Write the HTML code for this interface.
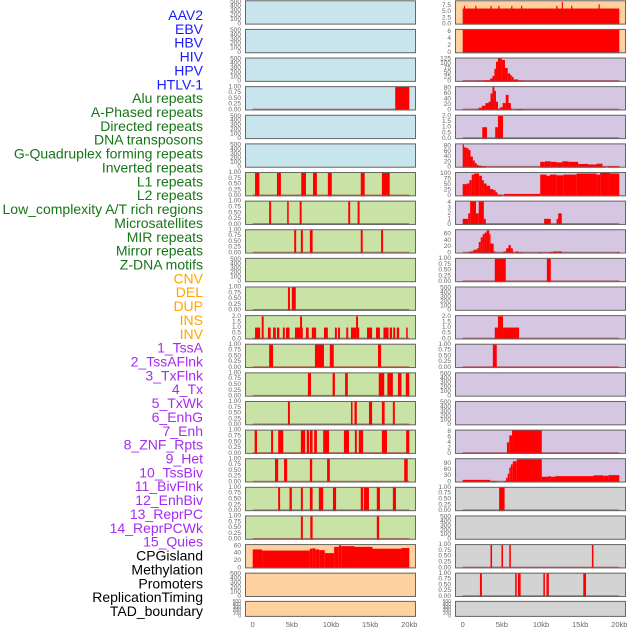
<!DOCTYPE html>
<html><head><meta charset="utf-8">
<style>
html,body{margin:0;padding:0;background:#fff;width:630px;height:630px;overflow:hidden}
svg{display:block}
.lab{font-family:"Liberation Sans",sans-serif;font-size:14px}
.tk{font-family:"Liberation Sans",sans-serif;font-size:6.5px;fill:#666}
.ax{font-family:"Liberation Sans",sans-serif;font-size:7.5px;fill:#666}
</style></head>
<body>
<svg id="chart" width="630" height="630" viewBox="0 0 630 630" xmlns="http://www.w3.org/2000/svg"></svg>
<script>
const trackLabels = ["AAV2","EBV","HBV","HIV","HPV","HTLV-1","Alu repeats","A-Phased repeats","Directed repeats","DNA transposons","G-Quadruplex forming repeats","Inverted repeats","L1 repeats","L2 repeats","Low_complexity A/T rich regions","Microsatellites","MIR repeats","Mirror repeats","Z-DNA motifs","CNV","DEL","DUP","INS","INV","1_TssA","2_TssAFlnk","3_TxFlnk","4_Tx","5_TxWk","6_EnhG","7_Enh","8_ZNF_Rpts","9_Het","10_TssBiv","11_BivFlnk","12_EnhBiv","13_ReprPC","14_ReprPCWk","15_Quies","CPGisland","Methylation","Promoters","ReplicationTiming","TAD_boundary"];
const labelColors = ["#1a1aff","#1a1aff","#1a1aff","#1a1aff","#1a1aff","#1a1aff","#167516","#167516","#167516","#167516","#167516","#167516","#167516","#167516","#167516","#167516","#167516","#167516","#167516","#ffa500","#ffa500","#ffa500","#ffa500","#ffa500","#a52cf0","#a52cf0","#a52cf0","#a52cf0","#a52cf0","#a52cf0","#a52cf0","#a52cf0","#a52cf0","#a52cf0","#a52cf0","#a52cf0","#a52cf0","#a52cf0","#a52cf0","#000","#000","#000","#000","#000"];
const xTickKb = [0,5,10,15,20];
const xTickLabels = ["0","5kb","10kb","15kb","20kb"];
const ticksEmpty = [0,100,200,300,400,500];
const ticksUnit = [0,0.25,0.5,0.75,1.0];
const ticksUnitLbl = ["0.00","0.25","0.50","0.75","1.00"];
// segments: [startKb, endKb, value]
const L4 = [[18.2,20.0,1]];
const L7 = [[0.3,0.85,1],[3.1,3.6,1],[6.2,6.8,1],[7.7,8.2,1],[9.6,10.1,1],[13.8,14.3,1],[16.5,17.5,1]];
const L8 = [[2.1,2.35,1],[4.4,4.6,1],[6.0,6.25,1],[12.2,12.45,1],[13.4,13.65,1]];
const L9 = [[5.3,5.55,1],[6.15,6.4,1],[7.3,7.65,1],[13.8,14.05,1],[16.4,16.65,1]];
const L11 = [[4.5,4.75,1],[5.0,5.5,1]];
const L12 = [[0.3,0.95,1],[1.15,1.4,2],[1.95,2.3,1],[2.6,2.95,1],[3.1,3.4,1],[3.85,4.1,1],[4.25,4.7,1],[5.4,6.05,1],[6.05,6.3,2],[6.3,6.4,1],[6.8,7.15,1],[7.55,8.1,1],[9.1,9.6,1],[10.5,10.75,1],[10.9,11.15,1],[11.95,12.2,1],[12.55,13.2,1],[13.2,13.45,2],[13.45,13.6,1],[14.6,15.25,1],[15.75,16.25,1],[16.7,17.35,1],[17.5,17.8,1],[17.95,18.2,1],[18.4,18.7,1],[19.6,19.8,1]];
const L13 = [[2.1,2.6,1],[7.95,9.1,1],[9.85,10.35,1],[16.0,16.4,1]];
const L14 = [[7.05,7.45,1],[10.2,10.5,1],[11.8,12.15,1],[16.1,16.8,1],[17.2,17.9,1],[18.55,19.0,1],[19.55,20,1]];
const L15 = [[4.5,4.75,1],[12.55,12.75,1],[13.0,13.3,1],[14.85,15.25,1],[16.5,16.85,1],[17.9,18.15,1]];
const L16 = [[0.25,0.55,1],[2.35,2.6,1],[3.25,3.9,1],[6.15,6.7,1],[6.9,7.2,1],[7.3,7.65,1],[7.85,8.2,1],[9.0,9.75,1],[11.65,12.3,1],[13.05,13.3,1],[13.55,14.1,1],[16.5,17.15,1],[19.6,20,1]];
const L17 = [[2.85,3.25,1],[4.0,4.4,1],[7.3,7.6,1],[9.5,9.85,1],[19.35,19.8,1]];
const L18 = [[3.25,3.5,1],[4.7,5.0,1],[6.15,6.4,1],[7.3,7.65,1],[8.45,9.0,1],[10.25,10.65,1],[13.8,14.1,1],[14.2,14.85,1],[15.85,16.25,1],[17.9,18.3,1]];
const L19 = [[6.15,6.4,1],[7.35,7.65,1],[15.85,16.15,1]];
const L20 = [[0,1.2,50],[1.2,7.3,47],[7.3,7.6,52],[7.6,8.0,53],[8.0,8.5,50],[8.5,9.2,48],[9.2,10.4,40],[10.4,11.0,57],[11.0,11.3,61],[11.3,13.0,59],[13.0,15.3,57],[15.3,19.0,52],[19.0,20,54]];
const R1 = [[0,20,6.3],[0.15,0.3,7.4],[1.6,1.75,7.4],[3.55,3.7,7.4],[4.55,4.7,7.4],[6.2,6.35,7.4],[7.45,7.6,7.4],[11.95,12.1,7.4],[12.65,12.8,9.0],[13.85,14.0,7.4],[17.35,17.5,8.0]];
const R2 = [[0,20,6.6]];
const R3 = [[1.8,2.7,2],[2.7,3.5,5],[3.5,3.8,15],[3.8,4.05,30],[4.05,4.25,70],[4.25,4.5,110],[4.5,5.0,130],[5.0,5.4,120],[5.4,5.75,75],[5.75,6.05,45],[6.05,6.25,35],[6.25,6.5,25],[6.5,7.1,10],[7.1,7.65,3]];
const R4 = [[1.8,2.05,3],[2.05,2.45,8],[2.45,2.9,15],[2.9,3.3,25],[3.3,3.55,30],[3.55,3.8,60],[3.8,4.05,84],[4.05,4.25,70],[4.25,4.5,30],[4.5,4.8,5],[4.8,5.1,10],[5.1,5.5,25],[5.5,5.85,55],[5.85,6.15,25],[6.15,6.3,5],[6.85,7.55,3]];
const R5 = [[2.5,3.1,1],[4.15,4.5,1],[4.5,5.15,2]];
const R6 = [[0,0.17,86],[0.17,0.5,75],[0.5,0.75,72],[0.75,1.0,65],[1.0,1.3,40],[1.3,1.55,25],[1.55,1.8,15],[1.8,2.05,8],[2.05,2.45,5],[2.45,2.95,3],[9.9,10.5,20],[10.5,11.25,22],[11.25,12.0,20],[12.0,12.7,18],[12.7,13.5,22],[13.5,14.75,20],[14.75,16.05,12],[16.05,17.1,10],[17.1,17.85,13],[17.85,18.2,2],[18.6,20,3]];
const R7 = [[0,0.5,52],[0.5,0.85,55],[0.85,1.15,70],[1.15,1.45,95],[1.45,2.1,100],[2.1,2.45,90],[2.45,2.7,70],[2.7,3.05,55],[3.05,3.5,45],[3.5,3.9,30],[3.9,4.2,25],[4.2,4.45,15],[4.45,5.0,5],[5.3,9.9,8],[9.9,10.7,95],[10.7,11.15,90],[11.15,12.0,95],[12.0,12.85,92],[12.85,14.55,95],[14.55,17.1,100],[17.1,17.55,95],[17.55,18.8,103],[18.8,20,100]];
const R8 = [[0,0.7,1],[0.7,0.95,2],[0.95,1.7,4.2],[1.7,2.05,2],[2.05,2.7,4.2],[2.7,2.95,1],[10.4,11.25,1],[12.0,12.2,1],[12.2,12.65,2]];
const R9 = [[0.7,0.95,3],[0.95,1.35,5],[1.35,1.8,10],[1.8,2.05,15],[2.05,2.3,35],[2.3,2.55,50],[2.55,2.8,60],[2.8,3.05,65],[3.05,3.4,72],[3.4,3.55,60],[3.55,3.95,30],[3.95,4.15,5],[5.2,5.55,5],[5.55,5.85,15],[5.85,6.15,25],[6.15,6.4,15],[6.4,6.5,5],[6.8,7.1,5],[7.1,7.6,2],[9.65,10.1,2],[11.05,11.55,3],[11.55,12.65,5],[19.75,20,3]];
const R10 = [[4.1,5.5,1],[10.75,11.25,1]];
const R12 = [[4.1,4.5,1],[4.5,5.15,2],[5.15,7.2,1]];
const R13 = [[3.85,4.35,1]];
const R16 = [[5.65,5.95,4],[5.95,6.3,6.5],[6.3,10.1,8.3]];
const R17 = [[0,3.5,10],[3.5,4.35,5],[5.3,5.55,5],[5.55,5.75,20],[5.75,5.95,40],[5.95,6.15,70],[6.15,6.4,85],[6.4,6.9,100],[6.9,10.1,110],[10.1,10.95,25],[10.95,11.25,28],[11.25,11.8,25],[11.8,16.7,28],[16.7,17.95,32],[17.95,18.6,30],[18.6,20,33]];
const R18 = [[4.65,5.35,1]];
const R20 = [[3.55,3.75,1],[4.95,5.15,1],[5.95,6.15,1],[16.5,16.7,1]];
const R21 = [[2.2,2.45,1],[6.7,6.9,1],[7.05,7.4,1],[10.3,10.5,1],[10.7,11.0,1],[15.4,15.75,1]];

const BLUE="#c8e4ec", GREEN="#c9e2a6", ORANGE="#ffd1a0", PURPLE="#d5c6e2", GREY="#d3d3d3";
const E = null;
const U = {max:1.0, ticks:ticksUnit, tl:ticksUnitLbl};
const left = [
 [BLUE,E],[BLUE,E],[BLUE,E],[BLUE,L4,U],[BLUE,E],[BLUE,E],
 [GREEN,L7,U],[GREEN,L8,U],[GREEN,L9,U],[GREEN,E],[GREEN,L11,U],
 [GREEN,L12,{max:2.05,ticks:[0,0.5,1,1.5,2],tl:["0.0","0.5","1.0","1.5","2.0"]}],
 [GREEN,L13,U],[GREEN,L14,U],[GREEN,L15,U],[GREEN,L16,U],[GREEN,L17,U],[GREEN,L18,U],[GREEN,L19,U],
 [ORANGE,L20,{max:63,ticks:[0,20,40,60],tl:["0","20","40","60"]}],[ORANGE,E],[ORANGE,E]
];
const right = [
 [ORANGE,R1,{max:9.4,ticks:[0,2.5,5,7.5],tl:["0.0","2.5","5.0","7.5"]}],
 [ORANGE,R2,{max:6.6,ticks:[0,2,4,6],tl:["0","2","4","6"]}],
 [PURPLE,R3,{max:130,ticks:[0,25,50,75,100,125],tl:["0","25","50","75","100","125"]}],
 [PURPLE,R4,{max:85,ticks:[0,20,40,60,80],tl:["0","20","40","60","80"]}],
 [PURPLE,R5,{max:2.05,ticks:[0,0.5,1,1.5,2],tl:["0.0","0.5","1.0","1.5","2.0"]}],
 [PURPLE,R6,{max:88,ticks:[0,20,40,60,80],tl:["0","20","40","60","80"]}],
 [PURPLE,R7,{max:104,ticks:[0,25,50,75,100],tl:["0","25","50","75","100"]}],
 [PURPLE,R8,{max:4.2,ticks:[0,1,2,3,4],tl:["0","1","2","3","4"]}],
 [PURPLE,R9,{max:74,ticks:[0,20,40,60],tl:["0","20","40","60"]}],
 [PURPLE,R10,U],[PURPLE,E],
 [PURPLE,R12,{max:2.05,ticks:[0,0.5,1,1.5,2],tl:["0.0","0.5","1.0","1.5","2.0"]}],
 [PURPLE,R13,U],[PURPLE,E],[PURPLE,E],
 [PURPLE,R16,{max:8.4,ticks:[0,2,4,6,8],tl:["0","2","4","6","8"]}],
 [PURPLE,R17,{max:112,ticks:[0,30,60,90],tl:["0","30","60","90"]}],
 [GREY,R18,U],[GREY,E],[GREY,R20,U],[GREY,R21,U],[GREY,E]
];

const NS="http://www.w3.org/2000/svg";
const svg=document.getElementById('chart');
function mk(tag,attrs){const e=document.createElementNS(NS,tag);for(const k in attrs)e.setAttribute(k,attrs[k]);return e;}

// labels
trackLabels.forEach((t,i)=>{
  const e=mk('text',{x:203,y:15+i*13.86,'text-anchor':'end','dominant-baseline':'central',fill:labelColors[i],class:'lab'});
  
  
  e.textContent=t;svg.appendChild(e);
});

function rowGeom(i){ if(i<21) return {top:i*28.62+0.3,h:24.3}; return {top:600.9,h:16}; }

function drawPanel(def,i,px0,kx0,side){
  const g=rowGeom(i);
  const W=171, bottom=g.top+g.h;
  const xs=kb=>kx0+kb*7.83;
  const grp=mk('g',{});
  
  
  svg.appendChild(grp);
  const bg=mk('rect',{x:px0,y:g.top,width:W,height:g.h,fill:def[0]});
  
  
  grp.appendChild(bg);
  const segs=def[1];
  let sc;
  if(!segs){ sc={max:520,ticks:ticksEmpty,tl:ticksEmpty.map(String)}; }
  else sc=def[2];
  const ys=v=>bottom-0.6-v/sc.max*(g.h-1.2);
  if(segs){
    const bl=mk('line',{x1:xs(0),x2:xs(20),y1:bottom-1,y2:bottom-1,stroke:'rgba(150,20,20,0.55)','stroke-width':1.6});
    
    
    grp.appendChild(bl);
    segs.forEach(s=>{
      const x1=xs(s[0]), x2=xs(s[1]), y=ys(s[2]);
      const r=mk('rect',{x:x1,y:y,width:Math.max(0.8,x2-x1),height:bottom-y,fill:'#ff0000'});
      
      
      grp.appendChild(r);
    });
  }
  const br=mk('rect',{x:px0+0.5,y:g.top+0.5,width:W-1,height:g.h-1,fill:'none',stroke:'#666','stroke-width':1});
  
  
  grp.appendChild(br);
  sc.ticks.forEach((t,j)=>{
    const tx=mk('text',{x:px0-4,y:ys(t),'text-anchor':'end','dominant-baseline':'central',class:'tk'});
    if(i===21) tx.setAttribute('style','font-size:5px');
    
    
    tx.textContent=sc.tl[j];grp.appendChild(tx);
  });
}
left.forEach((d,i)=>drawPanel(d,i,245,252.7,'left'));
right.forEach((d,i)=>drawPanel(d,i,455,462.7,'right'));

[[252.7,'left'],[462.7,'right']].forEach(([x0,side])=>{
  xTickKb.forEach((k,j)=>{
    const t=mk('text',{x:x0+k*7.83,y:627,'text-anchor':'middle',class:'ax'});
    
    
    t.textContent=xTickLabels[j];svg.appendChild(t);
  });
});
</script>
</body></html>
